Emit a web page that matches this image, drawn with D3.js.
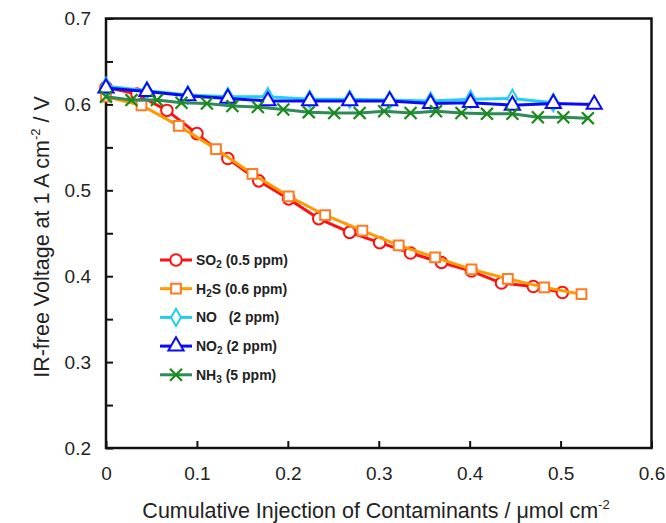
<!DOCTYPE html>
<html>
<head>
<meta charset="utf-8">
<script src="https://cdn.jsdelivr.net/npm/d3@7"></script>
<style>
  body { margin: 0; background: #fff; }
  svg text { font-family: "Liberation Sans", Arial, sans-serif; fill: #222; }
</style>
</head>
<body>
<svg id="chart" width="666" height="523"></svg>
<script>
// data
var so2X = [0, 0.034, 0.067, 0.100, 0.134, 0.168, 0.201, 0.234, 0.268, 0.301, 0.335, 0.369, 0.402, 0.435, 0.470, 0.502];
var so2Y = [0.620, 0.612, 0.593, 0.566, 0.537, 0.511, 0.490, 0.467, 0.451, 0.439, 0.427, 0.416, 0.406, 0.392, 0.388, 0.381];

var h2sX = [0, 0.039, 0.080, 0.121, 0.161, 0.201, 0.241, 0.282, 0.322, 0.362, 0.402, 0.442, 0.482, 0.523];
var h2sY = [0.609, 0.599, 0.575, 0.548, 0.519, 0.493, 0.471, 0.453, 0.436, 0.422, 0.408, 0.397, 0.387, 0.379];

var noX = [0, 0.045, 0.090, 0.134, 0.178, 0.224, 0.268, 0.312, 0.357, 0.401, 0.447, 0.492];
var noY = [0.621, 0.616, 0.611, 0.609, 0.609, 0.606, 0.606, 0.605, 0.604, 0.606, 0.607, 0.602];

var no2X = [0, 0.045, 0.090, 0.134, 0.178, 0.224, 0.268, 0.312, 0.357, 0.401, 0.447, 0.492, 0.537];
var no2Y = [0.619, 0.615, 0.610, 0.607, 0.604, 0.604, 0.604, 0.604, 0.601, 0.602, 0.599, 0.601, 0.600];

var nh3X = [0, 0.028, 0.056, 0.083, 0.111, 0.139, 0.167, 0.195, 0.223, 0.251, 0.279, 0.306, 0.335, 0.363, 0.391, 0.419, 0.447, 0.475, 0.503, 0.530];
var nh3Y = [0.609, 0.605, 0.605, 0.602, 0.601, 0.598, 0.597, 0.594, 0.591, 0.590, 0.590, 0.592, 0.590, 0.592, 0.590, 0.589, 0.589, 0.585, 0.585, 0.584];

var xTicks = [0, 0.1, 0.2, 0.3, 0.4, 0.5, 0.6];
var yTicks = [0.2, 0.25, 0.3, 0.35, 0.4, 0.45, 0.5, 0.55, 0.6, 0.65, 0.7];

var series = [
  {name: "SO", sub: "2", rest: " (0.5 ppm)", xs: so2X, ys: so2Y, line: "#ff1010", mark: "#ff1010", shape: "circle"},
  {name: "H", sub: "2", rest: "S (0.6 ppm)", xs: h2sX, ys: h2sY, line: "#ff9a00", mark: "#ff7a20", shape: "square"},
  {name: "NO", sub: "", rest: "   (2 ppm)", xs: noX, ys: noY, line: "#22ccf5", mark: "#22ccf5", shape: "diamond"},
  {name: "NO", sub: "2", rest: " (2 ppm)", xs: no2X, ys: no2Y, line: "#0a0af5", mark: "#0a0af5", shape: "triangle"},
  {name: "NH", sub: "3", rest: " (5 ppm)", xs: nh3X, ys: nh3Y, line: "#2e8b57", mark: "#1a8a1a", shape: "cross"}
];

var svg = d3.select("svg"),
    margin = {top: 18.5, right: 14.5, bottom: 75, left: 106},
    width = +svg.attr("width") - margin.left - margin.right,
    height = +svg.attr("height") - margin.top - margin.bottom,
    g = svg.append("g").attr("transform", "translate(" + margin.left + "," + margin.top + ")");

var x = d3.scaleLinear().domain([0, 0.6]).range([0, width]);
var y = d3.scaleLinear().domain([0.2, 0.7]).range([height, 0]);

var symbols = {
  circle: d3.symbol().type(d3.symbolCircle).size(105),
  square: d3.symbol().type(d3.symbolSquare).size(95),
  diamond: d3.symbol().type(d3.symbolDiamond).size(85),
  triangle: d3.symbol().type(d3.symbolTriangle).size(100),
  cross: d3.symbol().type(d3.symbolX).size(95)
};

// axes
g.append("g")
    .attr("transform", "translate(0," + height + ")")
    .call(d3.axisBottom(x).tickValues(xTicks).tickSizeInner(-7).tickSizeOuter(0).tickPadding(19)
      .tickFormat(function(d) { return d === 0 ? "0" : d3.format(".1f")(d); }))
    .call(function(a) {
      a.select(".domain").remove();
      a.selectAll("line").attr("stroke", "#111").attr("stroke-width", 2);
      a.selectAll("text").style("font-size", "19px");
    });

g.append("g")
    .call(d3.axisLeft(y).tickValues(yTicks).tickSizeInner(-7).tickSizeOuter(0).tickPadding(15)
      .tickFormat(function(d, i) { return i % 2 === 0 ? d3.format(".1f")(d) : ""; }))
    .call(function(a) {
      a.select(".domain").remove();
      a.selectAll("line").attr("stroke", "#111").attr("stroke-width", 2);
      a.selectAll("text").style("font-size", "19px");
    });

g.append("rect")
    .attr("width", width)
    .attr("height", height)
    .attr("fill", "none")
    .attr("stroke", "#111")
    .attr("stroke-width", 2.5);

var line = d3.line()
    .x(function(d) { return x(d[0]); })
    .y(function(d) { return y(d[1]); });

function drawMark(sel, s) {
  sel.attr("d", symbols[s.shape])
    .attr("fill", s.shape === "cross" ? "none" : "#fff")
    .attr("stroke", s.mark)
    .attr("stroke-width", s.shape === "cross" ? 2.2 : 2);
}

series.forEach(function(s) {
  var pts = s.xs.map(function(v, i) { return [v, s.ys[i]]; });
  var sg = g.append("g");
  sg.append("path")
    .datum(pts)
    .attr("fill", "none")
    .attr("stroke", s.line)
    .attr("stroke-width", 3)
    .attr("d", line);
  sg.selectAll(".pt")
    .data(pts)
    .enter().append("path")
      .attr("transform", function(d) { return "translate(" + x(d[0]) + "," + y(d[1]) + ")"; })
      .call(drawMark, s);
});

// legend
var leg = svg.append("g").attr("transform", "translate(160,260)");
series.forEach(function(s, i) {
  var r = leg.append("g").attr("transform", "translate(0," + (i * 28.7) + ")");
  r.append("line").attr("x1", 0).attr("x2", 32).attr("stroke", s.line).attr("stroke-width", 3);
  r.append("path").attr("transform", "translate(16,0)").call(drawMark, s);
  var t = r.append("text").attr("x", 36).attr("y", 5)
    .style("font-size", "14px").style("font-weight", "bold").style("white-space", "pre");
  t.append("tspan").text(s.name);
  if (s.sub) t.append("tspan").attr("dy", 3).style("font-size", "10px").text(s.sub);
  t.append("tspan").attr("dy", s.sub ? -3 : 0).text(s.rest);
});

// axis titles
var xt = svg.append("text")
    .attr("x", 376).attr("y", 518)
    .attr("text-anchor", "middle")
    .style("font-size", "21.5px");
xt.append("tspan").text("Cumulative Injection of Contaminants / \u03bcmol cm");
xt.append("tspan").attr("dy", -9).style("font-size", "13px").text("-2");

var yt = svg.append("text")
    .attr("transform", "translate(49,237) rotate(-90)")
    .attr("text-anchor", "middle")
    .style("font-size", "21.5px");
yt.append("tspan").text("IR-free Voltage at 1 A cm");
yt.append("tspan").attr("dy", -9).style("font-size", "13px").text("-2");
yt.append("tspan").attr("dy", 9).text(" / V");
</script>
</body>
</html>
